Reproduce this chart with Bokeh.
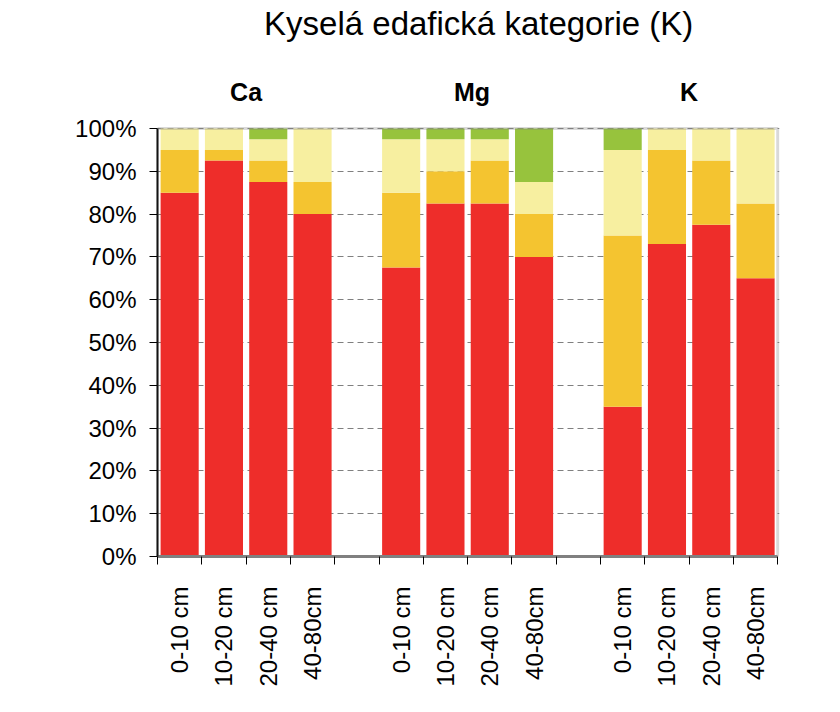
import math
from bokeh.plotting import figure
from bokeh.models import ColumnDataSource, Range1d, FixedTicker, NumeralTickFormatter, Label, BoxAnnotation
from bokeh.embed import file_html
from bokeh.resources import INLINE

# ---- data ----
elements = ["Ca", "Mg", "K"]
depths = ["0-10 cm", "10-20 cm", "20-40 cm", "40-80cm"]
red = [85, 92.5, 87.5, 80, 67.5, 82.5, 82.5, 70, 35, 73, 77.5, 65]
orange = [10, 2.5, 5, 7.5, 17.5, 7.5, 10, 10, 40, 22, 15, 17.5]
light = [5, 5, 5, 12.5, 12.5, 7.5, 5, 7.5, 20, 5, 7.5, 17.5]
green = [0, 0, 2.5, 0, 2.5, 2.5, 2.5, 12.5, 5, 0, 0, 0]
y_ticks = [0, 10, 20, 30, 40, 50, 60, 70, 80, 90, 100]
title_text = "Kyselá edafická kategorie (K)"

colors = ["#EE2D2A", "#F4C430", "#F7EFA0", "#97C33D"]
FONT = "Liberation Sans"

slots_per_group = len(depths) + 1
n_slots = len(elements) * slots_per_group - 1

xs, labels = [], []
for g, el in enumerate(elements):
    for d, dep in enumerate(depths):
        xs.append(g * slots_per_group + d + 0.5)
        labels.append(dep)

src = ColumnDataSource(dict(
    x=xs,
    red=[v / 100 for v in red],
    orange=[v / 100 for v in orange],
    light=[v / 100 for v in light],
    green=[v / 100 for v in green],
))

W, H = 830, 700
BOTTOM = 144
p = figure(width=W, height=H, output_backend="svg", toolbar_location=None,
           x_range=Range1d(0, n_slots + 0.04), y_range=Range1d(0, (H - BOTTOM) / 428),
           min_border_left=157, min_border_right=W - 779, min_border_top=0,
           min_border_bottom=BOTTOM)
p.border_fill_color = "white"
p.background_fill_color = "white"
p.outline_line_color = None

p.vbar_stack(["red", "orange", "light", "green"], x="x", width=0.86, source=src,
             color=colors, line_color=None)

# frame border (top and right grey)
p.add_layout(BoxAnnotation(left=0, right=n_slots, bottom=0, top=1,
                           fill_color=None, line_color="#808080", line_width=3))

# grid
p.xgrid.visible = False
p.ygrid.ticker = FixedTicker(ticks=[t / 100 for t in y_ticks])
p.ygrid.grid_line_color = "#808080"
p.ygrid.grid_line_dash = "6 4"
p.ygrid.grid_line_width = 1

# y axis
p.yaxis.bounds = (0, 1)
p.yaxis.ticker = FixedTicker(ticks=[t / 100 for t in y_ticks])
p.yaxis.formatter = NumeralTickFormatter(format="0%")
p.yaxis.major_label_text_font = FONT
p.yaxis.major_label_text_font_size = "24px"
p.yaxis.major_label_text_color = "black"
p.yaxis.major_tick_out = 8
p.yaxis.major_tick_in = 0
p.yaxis.minor_tick_out = 0
p.yaxis.minor_tick_in = 0
p.yaxis.major_label_standoff = 13
p.yaxis.axis_line_color = "black"
p.yaxis.axis_line_width = 2
p.yaxis.major_tick_line_color = "black"

# x axis: labels at centers, tick marks at slot boundaries
p.xaxis.bounds = (0, n_slots)
p.xaxis.ticker = FixedTicker(ticks=xs, minor_ticks=list(range(n_slots + 1)))
p.xaxis.major_label_overrides = {x: l for x, l in zip(xs, labels)}
p.xaxis.major_label_orientation = math.pi / 2
p.xaxis.major_label_text_font = FONT
p.xaxis.major_label_text_font_size = "24px"
p.xaxis.major_label_text_color = "black"
p.xaxis.major_tick_out = 0
p.xaxis.major_tick_in = 0
p.xaxis.minor_tick_out = 8
p.xaxis.minor_tick_in = 0
p.xaxis.minor_tick_line_color = "black"
p.xaxis.minor_tick_line_width = 1
p.xaxis.major_label_standoff = 22
p.xaxis.axis_line_color = "#808080"
p.xaxis.axis_line_width = 3

# title and group labels
p.add_layout(Label(x=7.25, y=1.245, text=title_text, text_font=FONT,
                   text_font_size="33px", text_align="center",
                   text_baseline="middle", text_color="black"))
group_x = [2.0, 7.1, 12.0]
for el, gx in zip(elements, group_x):
    p.add_layout(Label(x=gx, y=1.086, text=el, text_font=FONT,
                       text_font_size="25px", text_font_style="bold",
                       text_align="center", text_baseline="middle",
                       text_color="black"))

open("out.html", "w").write(file_html(p, INLINE))
